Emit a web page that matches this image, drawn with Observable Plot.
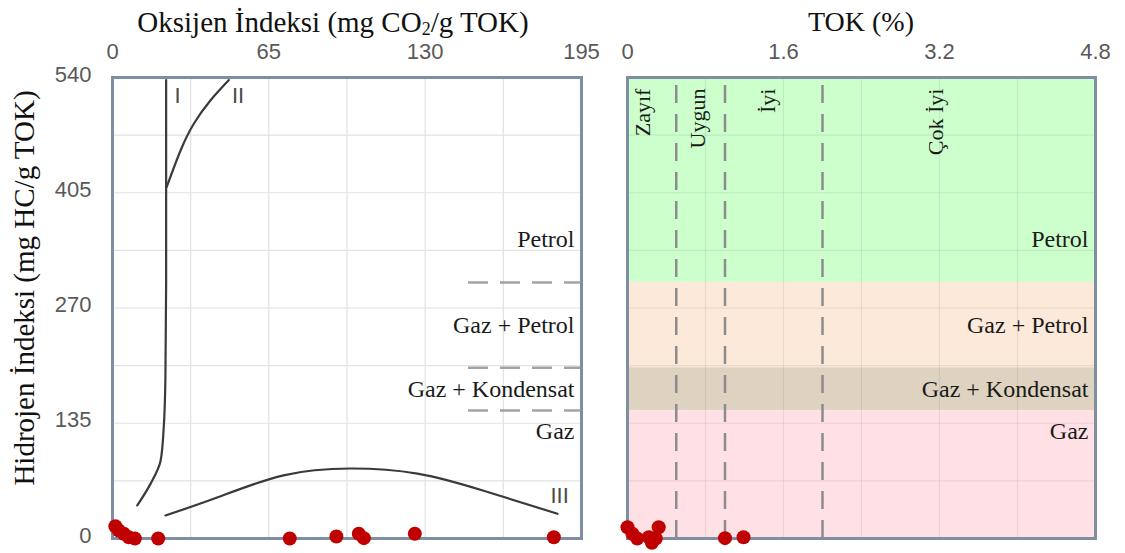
<!DOCTYPE html>
<html>
<head>
<meta charset="utf-8">
<script src="https://cdn.jsdelivr.net/npm/d3@7"></script>
<script src="https://cdn.jsdelivr.net/npm/@observablehq/plot@0.6"></script>
<style>
  html, body { margin: 0; padding: 0; background: #fff; }
  #wrap { position: relative; width: 1125px; height: 553px; overflow: hidden; }
  .panel { position: absolute; top: 0; }
  .title { position: absolute; font-family: "Liberation Serif", "Times New Roman", serif; font-size: 29px; color: #111; white-space: nowrap; line-height: 1; transform: translate(-50%, -50%); }
  .title sub { font-size: 0.62em; vertical-align: -0.22em; line-height: 0; }
</style>
</head>
<body>
<div id="wrap">
  <div class="panel" id="left" style="left:0"></div>
  <div class="panel" id="right" style="left:600px"></div>
  <div class="title" style="left:333px; top:22px">Oksijen İndeksi (mg CO<sub>2</sub>/g TOK)</div>
  <div class="title" style="left:861px; top:22px; font-size:28px">TOK (%)</div>
  <div class="title" style="left:24px; top:288px; transform: translate(-50%,-50%) rotate(-90deg)">Hidrojen İndeksi (mg HC/g TOK)</div>
</div>
<script>
// ---------- data ----------
const oiTicks = [0, 65, 130, 195];
const tokTicks = [0, 1.6, 3.2, 4.8];
const hiTicks = [0, 135, 270, 405, 540];
const oiGrid = [32.5, 65, 97.5, 130, 162.5];
const tokGrid = [0.8, 1.6, 2.4, 3.2, 4.0];
const hiGrid = [67.5, 135, 202.5, 270, 337.5, 405, 472.5];

// fluid zones (HI)
const zoneNames = ["Petrol", "Gaz + Petrol", "Gaz + Kondensat", "Gaz"];
const zoneLow = [300, 200, 150, 0];
const zoneHigh = [540, 300, 200, 150];
const zoneLabelHI = [350, 250, 175, 125];
const zoneBoundaries = [300, 200, 150];
const zoneDashFromOI = 148;

// TOK richness classes
const tokClassNames = ["Zayıf", "Uygun", "İyi", "Çok İyi"];
const tokClassLabelTOK = [0.16, 0.72, 1.44, 3.16];
const tokClassLabelHI = 527;
const tokBoundaries = [0.5, 1.0, 2.0];

// kerogen type curves (OI, HI)
const curveI_OI = [10.3, 15.8, 20.0, 21.3, 22.0, 22.3, 22.3, 22.3];
const curveI_HI = [38.7, 64, 91, 130, 189, 300, 412, 537];
const curveII_OI = [22.5, 28.3, 33.8, 40.7, 48.4];
const curveII_HI = [411.5, 454.5, 485.8, 513, 537];
const curveIII_OI = [22.0, 43.5, 71.1, 99.0, 126.8, 154.3, 185.0];
const curveIII_HI = [27, 48, 74, 82, 76, 56, 29];
const curveNames = ["I", "II", "III"];
const curveLabelOI = [27.0, 52.2, 185.9];
const curveLabelHI = [518, 518, 50];

// samples: left panel (OI, HI)
const sampleOI = [1.2, 2.6, 4.7, 6.8, 9.3, 19.0, 73.7, 93.1, 102.4, 104.5, 125.7, 183.5];
const sampleHI_L = [14.4, 9.4, 5.5, 1.5, 0, 0, 0, 2.3, 5.5, 0.4, 5.5, 1.5];
// samples: right panel (TOK, HI)
const sampleTOK = [0.0, 0.05, 0.10, 0.22, 0.25, 0.32, 0.29, 1.0, 1.19];
const sampleHI_R = [13.2, 5.5, 0, 1.5, -5, 13.2, 0, 0.4, 1.5];

// ---------- styles ----------
const zoneColors = ["#ccffcc", "#fde9d9", "#ddd3c0", "#ffe0e5"];
const frameColor = "#7f8fa3";
const gridColor = "#e2e2e2";
const dashColor = "#8c8c8c";
const curveColor = "#3a3a3a";
const dotColor = "#c00000";
const tickColor = "#595959";
const serif = "Liberation Serif, Times New Roman, serif";
const sans = "Liberation Sans, Arial, sans-serif";

const zip = (a, b) => a.map((v, i) => [v, b[i]]);
const zones = zoneNames.map((n, i) => ({name: n, lo: zoneLow[i], hi: zoneHigh[i], labelHI: zoneLabelHI[i], color: zoneColors[i]}));

// ---------- left panel ----------
const left = Plot.plot({
  width: 600, height: 553,
  marginLeft: 112, marginRight: 19, marginTop: 77, marginBottom: 15,
  style: {fontFamily: sans, fontSize: "22px", background: "transparent", overflow: "visible"},
  x: {domain: [0, 195]},
  y: {domain: [0, 540]},
  marks: [
    Plot.ruleX(oiGrid, {stroke: gridColor, strokeWidth: 1.2}),
    Plot.ruleY(hiGrid, {stroke: gridColor, strokeWidth: 1.2}),
    Plot.axisX({anchor: "top", ticks: oiTicks, tickSize: 0, tickPadding: 19, label: null, fill: tickColor}),
    Plot.axisY({ticks: hiTicks, tickSize: 0, tickPadding: 21, dy: -3, label: null, fill: tickColor}),
    Plot.ruleY(zoneBoundaries, {x1: zoneDashFromOI, x2: 195, stroke: dashColor, strokeOpacity: 0.8, strokeWidth: 2.5, strokeDasharray: "20,12"}),
    Plot.line(zip(curveI_OI, curveI_HI), {curve: "monotone-y", stroke: curveColor, strokeWidth: 2.2}),
    Plot.line(zip(curveII_OI, curveII_HI), {curve: "natural", stroke: curveColor, strokeWidth: 2.2}),
    Plot.line(zip(curveIII_OI, curveIII_HI), {curve: "natural", stroke: curveColor, strokeWidth: 2.2}),
    Plot.text(curveNames, {x: (d, i) => curveLabelOI[i], y: (d, i) => curveLabelHI[i], text: d => d, fontFamily: sans, fontSize: 22, fill: "#4a4a4a"}),
    Plot.text(zones, {y: "labelHI", text: "name", frameAnchor: "right", textAnchor: "end", dx: -7, fontFamily: serif, fontSize: 24, fill: "#1a1a1a"}),
    Plot.frame({stroke: frameColor, strokeWidth: 3}),
    Plot.dot(zip(sampleOI, sampleHI_L), {r: 7, fill: dotColor, stroke: "none"})
  ]
});
document.getElementById("left").append(left);

// ---------- right panel ----------
const right = Plot.plot({
  width: 525, height: 553,
  marginLeft: 27, marginRight: 30, marginTop: 77, marginBottom: 15,
  style: {fontFamily: sans, fontSize: "22px", background: "transparent", overflow: "visible"},
  x: {domain: [0, 4.8]},
  y: {domain: [0, 540], axis: null},
  marks: [
    Plot.rect(zones, {x1: 0, x2: 4.8, y1: "lo", y2: "hi", fill: "color"}),
    Plot.ruleX(tokGrid, {stroke: "#000", strokeOpacity: 0.07, strokeWidth: 1.2}),
    Plot.ruleY(hiGrid, {stroke: "#000", strokeOpacity: 0.07, strokeWidth: 1.2}),
    Plot.axisX({anchor: "top", ticks: tokTicks, tickSize: 0, tickPadding: 19, label: null, fill: tickColor, tickFormat: d => d === 0 ? "0" : d.toFixed(1)}),
    Plot.ruleX(tokBoundaries, {stroke: dashColor, strokeWidth: 2.5, strokeDasharray: "18,11", strokeDashoffset: -8}),
    Plot.text(tokClassNames, {x: (d, i) => tokClassLabelTOK[i], y: tokClassLabelHI, text: d => d, rotate: -90, textAnchor: "end", fontFamily: serif, fontSize: 22, fill: "#1a1a1a"}),
    Plot.text(zones, {y: "labelHI", text: "name", frameAnchor: "right", textAnchor: "end", dx: -7, fontFamily: serif, fontSize: 24, fill: "#1a1a1a"}),
    Plot.frame({stroke: frameColor, strokeWidth: 3}),
    Plot.dot(zip(sampleTOK, sampleHI_R), {r: 7, fill: dotColor, stroke: "none"})
  ]
});
document.getElementById("right").append(right);
</script>
</body>
</html>
